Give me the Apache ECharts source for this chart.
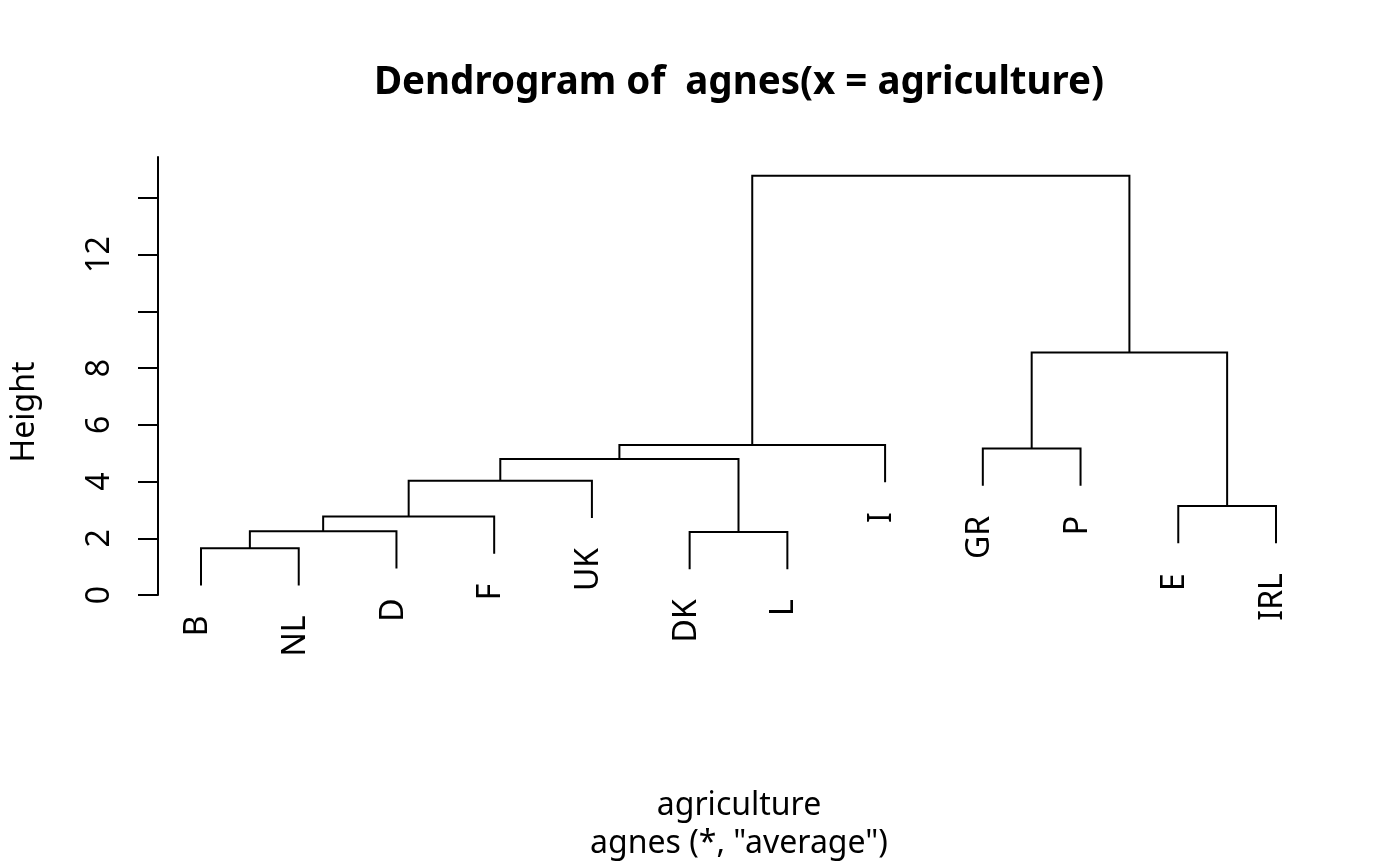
<!DOCTYPE html>
<html>
<head>
<meta charset="utf-8">
<script src="https://cdn.jsdelivr.net/npm/echarts@6/dist/echarts.min.js"></script>
<style>html,body{margin:0;padding:0;background:#fff}#c{width:1400px;height:866px}</style>
</head>
<body>
<div id="c"></div>
<script>
// leaves in plotting order (left to right)
const leaves = ['B','NL','D','F','UK','DK','L','I','GR','P','E','IRL'];
// merge steps: negative = leaf (1-based index in leaves), positive = earlier merge (1-based)
const mergeLeft  = [-1, 1, 2, 3, -6, 4, 6, -9, -11, 8, 7];
const mergeRight = [-2, -3, -4, -5, -7, 5, -8, -10, -12, 9, 10];
const mergeHeight = [1.65, 2.25, 2.77, 4.03, 2.22, 4.79, 5.29, 5.16, 3.14, 8.55, 14.78];
// y axis ticks / labels
const yTicks = [0, 2, 4, 6, 8, 10, 12, 14];
const yTickLabels = [0, 2, 4, 6, 8, 12];

const titleText = 'Dendrogram of  agnes(x = agriculture)';
const xLabel = 'agriculture';
const subLabel = 'agnes (*, "average")';
const yLabel = 'Height';

const FONT = "'Noto Sans', 'DejaVu Sans', sans-serif";

// layout of the tree (positions derived from the structure)
const hang = 0.1 * (Math.max(...mergeHeight) - Math.min(...mergeHeight));
const nodeX = [];
const leafEnd = new Array(leaves.length).fill(0);
function childPos(c, parentH) {
  if (c < 0) { const i = -c - 1; leafEnd[i] = parentH - hang; return [i + 1, parentH - hang]; }
  return [nodeX[c - 1], mergeHeight[c - 1]];
}
const mergeData = [];
for (let k = 0; k < mergeHeight.length; k++) {
  const h = mergeHeight[k];
  const l = childPos(mergeLeft[k], h);
  const r = childPos(mergeRight[k], h);
  nodeX[k] = (l[0] + r[0]) / 2;
  mergeData.push([l[0], l[1], r[0], r[1], h]);
}
const leafData = leaves.map((n, i) => [i + 1, leafEnd[i]]);

const chart = echarts.init(document.getElementById('c'), null, {renderer: 'canvas'});
chart.setOption({
  animation: false,
  backgroundColor: '#fff',
  title: {
    text: titleText,
    left: 734, top: 59, textAlign: 'center',
    textStyle: {fontFamily: FONT, fontWeight: 'bold', fontSize: 38.5, color: '#000'}
  },
  grid: {left: 158, right: 81, top: 157, bottom: 271},
  xAxis: {type: 'value', min: 0.56, max: 12.44, show: false},
  yAxis: {
    type: 'value', min: 0, max: 15.44, interval: 2, position: 'left',
    splitLine: {show: false},
    axisLine: {show: true, onZero: false, lineStyle: {color: '#000', width: 2}},
    axisTick: {show: true, inside: false, length: 20, customValues: yTicks, lineStyle: {color: '#000', width: 2}},
    axisLabel: {show: true, customValues: yTickLabels, rotate: 90, margin: 42,
      fontFamily: FONT, fontSize: 32, color: '#000'}
  },
  graphic: [
    {type: 'text', x: 25, y: 412, rotation: Math.PI / 2,
      style: {text: yLabel, font: '32px ' + FONT, fill: '#000', textAlign: 'center', textVerticalAlign: 'middle'}},
    {type: 'text', x: 739, y: 806,
      style: {text: xLabel, font: '32px ' + FONT, fill: '#000', textAlign: 'center', textVerticalAlign: 'middle'}},
    {type: 'text', x: 739, y: 844,
      style: {text: subLabel, font: '32px ' + FONT, fill: '#000', textAlign: 'center', textVerticalAlign: 'middle'}}
  ],
  series: [
    {
      type: 'custom', clip: false, silent: true,
      data: mergeData,
      encode: {x: [0, 2], y: [1, 3, 4]},
      renderItem: function (params, api) {
        const p1 = api.coord([api.value(0), api.value(1)]);
        const p2 = api.coord([api.value(0), api.value(4)]);
        const p3 = api.coord([api.value(2), api.value(4)]);
        const p4 = api.coord([api.value(2), api.value(3)]);
        return {type: 'polyline', shape: {points: [p1, p2, p3, p4]},
          style: {stroke: '#000', lineWidth: 2, fill: null}};
      }
    },
    {
      type: 'custom', clip: false, silent: true,
      data: leafData,
      encode: {x: 0, y: 1},
      renderItem: function (params, api) {
        const p = api.coord([api.value(0), api.value(1)]);
        return {type: 'text', x: p[0] - 3, y: p[1] + 30, rotation: Math.PI / 2,
          style: {text: leaves[params.dataIndex], font: '32px ' + FONT, fill: '#000',
            textAlign: 'right', textVerticalAlign: 'middle'}};
      }
    }
  ]
});
</script>
</body>
</html>
